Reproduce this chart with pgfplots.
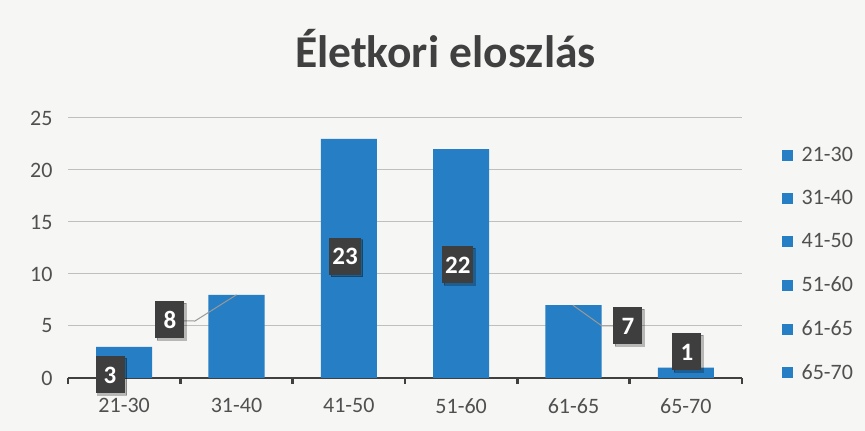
\documentclass[border=0pt]{standalone}
\usepackage{fontspec}
\setmainfont{Carlito}
\usepackage{pgfplots}
\pgfplotsset{compat=1.18}
\usetikzlibrary{shadows}
\definecolor{barblue}{RGB}{38,126,196}
\definecolor{lblgray}{RGB}{62,62,62}
\definecolor{txtgray}{RGB}{80,80,80}
\definecolor{titlegray}{RGB}{64,64,64}
\definecolor{bggray}{RGB}{246,246,245}
\begin{document}
\begin{tikzpicture}[x=1pt,y=1pt]
\path[use as bounding box, fill=bggray] (0,0) rectangle (865,431);
\begin{axis}[
  at={(68pt,53pt)}, anchor=south west,
  scale only axis, width=674pt, height=260pt,
  xmin=-0.5, xmax=5.5, ymin=0, ymax=25,
  axis x line*=bottom, axis y line*=left,
  y axis line style={draw=none},
  x axis line style={draw=black!75, line width=2.5pt},
  xtick={0,...,5},
  xticklabels={21-30,31-40,41-50,51-60,61-65,65-70},
  minor xtick={-0.5,0.5,...,5.5},
  ytick={0,5,...,25},
  major tick length=0pt,
  minor tick length=6pt,
  tick align=outside,
  major tick style={draw=none},
  minor tick style={draw=black!75, line width=2.5pt},
  ymajorgrids,
  grid style={draw=black!25, line width=1pt},
  ticklabel style={font=\fontsize{22}{26}\selectfont, text=txtgray},
  /pgf/number format/assume math mode=true,
  yticklabel style={xshift=-12pt},
  xticklabel style={yshift=-17pt},
  clip=false,
  title={Életkori eloszlás},
  title style={at={(axis description cs:0.56,1.17)}, anchor=base, font=\fontsize{45.5}{54}\selectfont\bfseries, text=titlegray},
  legend style={at={(axis description cs:1.055,0.905)}, anchor=north west, draw=none, fill=none,
    font=\fontsize{22}{26}\selectfont, text=txtgray, row sep=23.5pt, column sep=1pt,
    nodes={inner xsep=8pt}},
  legend cell align=left,
  legend image code/.code={\fill[barblue] (0pt,-5pt) rectangle (10pt,5pt);},
]
\addplot[ybar, bar width=56pt, fill=barblue, draw=none, forget plot]
  coordinates {(0,3) (1,8) (2,23) (3,22) (4,7) (5,1)};
\addplot[draw=black!40, line width=1pt, forget plot] coordinates {(0.45,5.5) (0.63,5.48) (1,8)};
\addplot[draw=black!40, line width=1pt, forget plot] coordinates {(4.45,5.0) (4.254,5.0) (3.995,7)};
\addplot[only marks, mark=none, forget plot, nodes near coords, point meta=explicit symbolic,
  every node near coord/.append style={anchor=center, fill=lblgray, text=white,
    font=\fontsize{25}{30}\selectfont\bfseries, minimum height=37pt, minimum width=29pt, inner sep=3pt,
    general shadow={fill=black, opacity=0.25, shadow xshift=2pt, shadow yshift=-2pt}}]
  coordinates {(-0.126,0.29) [3] (0.408,5.58) [8] (1.966,11.73) [23] (2.97,10.87) [22] (4.485,5.0) [7] (5.01,2.5) [1]};
\addlegendimage{}\addlegendentry{21-30}
\addlegendimage{}\addlegendentry{31-40}
\addlegendimage{}\addlegendentry{41-50}
\addlegendimage{}\addlegendentry{51-60}
\addlegendimage{}\addlegendentry{61-65}
\addlegendimage{}\addlegendentry{65-70}
\end{axis}
\end{tikzpicture}
\end{document}
